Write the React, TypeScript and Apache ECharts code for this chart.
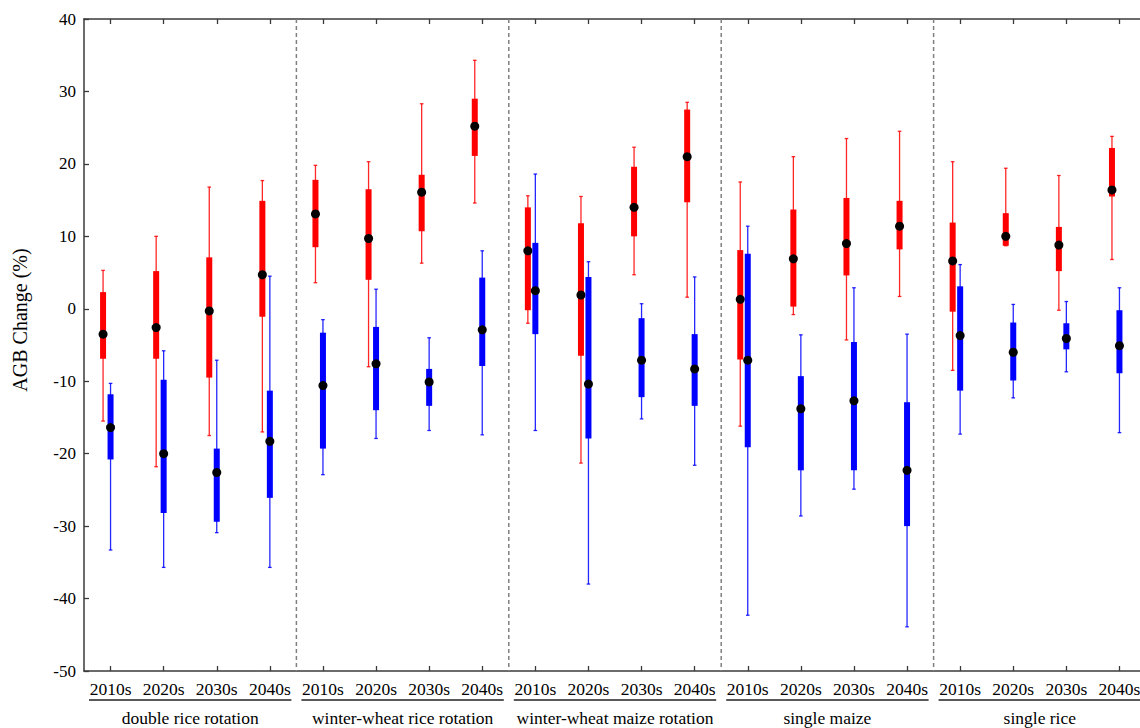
import React, { useEffect, useRef } from "react";
import * as echarts from "echarts";

const groups = [
  "double rice rotation",
  "winter-wheat rice rotation",
  "winter-wheat maize rotation",
  "single maize",
  "single rice",
];
const decades = ["2010s", "2020s", "2030s", "2040s"];
const categories = groups.flatMap(() => decades);

// red series (low whisker, Q1, median, Q3, high whisker)
const redLow = [-15.5, -21.8, -17.5, -17.0, 3.6, -8.0, 6.3, 14.6, -2.0, -21.3, 4.7, 1.6, -16.2, -0.8, -4.3, 1.7, -8.5, 8.7, -0.2, 6.8];
const redQ1 = [-6.9, -6.9, -9.5, -1.1, 8.5, 4.0, 10.7, 21.1, -0.2, -6.5, 10.0, 14.7, -7.0, 0.3, 4.6, 8.2, -0.4, 8.7, 5.2, 15.5];
const redMedian = [-3.5, -2.6, -0.3, 4.7, 13.1, 9.7, 16.1, 25.2, 8.0, 1.9, 14.0, 21.0, 1.3, 6.9, 9.0, 11.4, 6.6, 10.0, 8.8, 16.4];
const redQ3 = [2.3, 5.2, 7.1, 14.9, 17.8, 16.5, 18.5, 29.0, 14.0, 11.8, 19.6, 27.5, 8.1, 13.7, 15.3, 14.9, 11.9, 13.2, 11.3, 22.2];
const redHigh = [5.3, 10.0, 16.8, 17.7, 19.8, 20.3, 28.3, 34.3, 15.6, 15.5, 22.3, 28.5, 17.5, 21.0, 23.5, 24.5, 20.3, 19.4, 18.4, 23.8];

// blue series
const blueLow = [-33.3, -35.7, -30.9, -35.7, -22.9, -17.9, -16.8, -17.4, -16.8, -38.0, -15.2, -21.6, -42.3, -28.6, -24.9, -43.9, -17.3, -12.3, -8.7, -17.1];
const blueQ1 = [-20.8, -28.2, -29.4, -26.1, -19.3, -14.0, -13.4, -7.9, -3.5, -17.9, -12.2, -13.4, -19.1, -22.3, -22.3, -30.0, -11.3, -9.9, -5.6, -8.9];
const blueMedian = [-16.4, -20.0, -22.6, -18.3, -10.6, -7.6, -10.1, -2.9, 2.5, -10.4, -7.1, -8.3, -7.1, -13.8, -12.7, -22.3, -3.7, -6.0, -4.1, -5.1];
const blueQ3 = [-11.8, -9.8, -19.3, -11.3, -3.3, -2.5, -8.3, 4.3, 9.1, 4.4, -1.3, -3.5, 7.6, -9.3, -4.6, -12.9, 3.1, -1.9, -2.0, -0.2];
const blueHigh = [-10.3, -5.8, -7.1, 4.5, -1.5, 2.7, -4.0, 8.0, 18.6, 6.5, 0.7, 4.4, 11.4, -3.6, 2.9, -3.5, 6.1, 0.6, 1.0, 2.9];

const separators = [3.5, 7.5, 11.5, 15.5];

const FONT = "'Liberation Serif', 'Times New Roman', serif";

function buildData(low: number[], q1: number[], med: number[], q3: number[], high: number[]) {
  return categories.map((_, i) => [i, low[i], q1[i], med[i], q3[i], high[i]]);
}

function makeRender(color: string, offsetFrac: number) {
  return (params: any, api: any) => {
    const x = api.value(0);
    const band = api.size([1, 0])[0];
    const cx = api.coord([x, 0])[0] + band * offsetFrac;
    const yLow = api.coord([x, api.value(1)])[1];
    const yQ1 = api.coord([x, api.value(2)])[1];
    const yMed = api.coord([x, api.value(3)])[1];
    const yQ3 = api.coord([x, api.value(4)])[1];
    const yHigh = api.coord([x, api.value(5)])[1];
    const capHalf = 1.8;
    const boxHalf = 3;
    const ws = { stroke: color, lineWidth: 1.3, opacity: 0.85 };
    return {
      type: "group",
      children: [
        { type: "line", shape: { x1: cx, y1: yHigh, x2: cx, y2: yLow }, style: ws },
        { type: "line", shape: { x1: cx - capHalf, y1: yHigh, x2: cx + capHalf, y2: yHigh }, style: ws },
        { type: "line", shape: { x1: cx - capHalf, y1: yLow, x2: cx + capHalf, y2: yLow }, style: ws },
        { type: "rect", shape: { x: cx - boxHalf, y: yQ3, width: boxHalf * 2, height: yQ1 - yQ3 }, style: { fill: color } },
        { type: "circle", shape: { cx: cx, cy: yMed, r: 4.5 }, style: { fill: "#000" } },
      ],
    };
  };
}

export default function App() {
  const ref = useRef<HTMLDivElement>(null);
  useEffect(() => {
    if (!ref.current) return;
    const chart = echarts.init(ref.current, null, { renderer: "svg" });
    const axisColor = "#3a3a3a";
    const gridLeft = 84;
    const gridTop = 19;
    const gridHeight = 652;
    const tick = { show: true, inside: true, length: 5, lineStyle: { color: axisColor, width: 1.3 } };
    const line = { show: true, onZero: false, lineStyle: { color: axisColor, width: 1.5 } };
    chart.setOption({
      animation: false,
      backgroundColor: "#fff",
      grid: {
        left: gridLeft,
        top: gridTop,
        width: 1062,
        height: gridHeight,
        containLabel: false,
        outerBoundsMode: "none",
      },
      xAxis: [
        {
          type: "category",
          data: categories,
          position: "bottom",
          boundaryGap: true,
          axisLine: line,
          axisTick: { ...tick, alignWithLabel: true },
          axisLabel: { interval: 0, fontFamily: FONT, fontSize: 17.5, color: "#000", margin: 9 },
          splitLine: { show: false },
        },
        {
          type: "category",
          data: categories,
          position: "top",
          boundaryGap: true,
          axisLine: line,
          axisTick: { ...tick, alignWithLabel: true },
          axisLabel: { show: false },
          splitLine: { show: false },
        },
        { type: "value", min: -0.5, max: 19.5, show: false, axisLine: { onZero: false } },
      ],
      yAxis: [
        {
          type: "value",
          min: -50,
          max: 40,
          interval: 10,
          position: "left",
          axisLine: line,
          axisTick: tick,
          axisLabel: { fontFamily: FONT, fontSize: 17, color: "#000", margin: 8 },
          splitLine: { show: false },
        },
        {
          type: "value",
          min: -50,
          max: 40,
          interval: 10,
          position: "right",
          axisLine: line,
          axisTick: tick,
          axisLabel: { show: false },
          splitLine: { show: false },
        },
      ],
      series: [
        {
          type: "custom",
          name: "separators",
          xAxisIndex: 2,
          yAxisIndex: 0,
          data: separators.map((s) => [s]),
          encode: { x: 0 },
          renderItem: (params: any, api: any) => {
            const x = api.coord([api.value(0), 0])[0];
            const cs = params.coordSys;
            return {
              type: "line",
              shape: { x1: x, y1: cs.y, x2: x, y2: cs.y + cs.height },
              style: { stroke: "#808080", lineWidth: 1.5, lineDash: [4, 3] },
            };
          },
          z: 1,
        },
        {
          type: "custom",
          name: "red",
          xAxisIndex: 0,
          yAxisIndex: 0,
          data: buildData(redLow, redQ1, redMedian, redQ3, redHigh),
          encode: { x: 0, y: [1, 2, 3, 4, 5] },
          renderItem: makeRender("#ff0000", -0.141),
          z: 3,
        },
        {
          type: "custom",
          name: "blue",
          xAxisIndex: 0,
          yAxisIndex: 0,
          data: buildData(blueLow, blueQ1, blueMedian, blueQ3, blueHigh),
          encode: { x: 0, y: [1, 2, 3, 4, 5] },
          renderItem: makeRender("#0000ff", 0),
          z: 4,
        },
      ],
    });

    const bottom = gridTop + gridHeight;
    const graphics: any[] = [];
    groups.forEach((g, gi) => {
      const left = chart.convertToPixel({ xAxisIndex: 2 }, gi * 4 - 0.5) as number;
      const right = chart.convertToPixel({ xAxisIndex: 2 }, gi * 4 + 3.5) as number;
      graphics.push({
        type: "line",
        shape: { x1: left + 5, y1: bottom + 29, x2: right - 5, y2: bottom + 29 },
        style: { stroke: "#222", lineWidth: 1.5 },
      });
      graphics.push({
        type: "text",
        x: (left + right) / 2,
        y: bottom + 47,
        style: { text: g, fontFamily: FONT, fontSize: 17.5, fill: "#000", textAlign: "center", textVerticalAlign: "middle" },
      });
    });
    graphics.push({
      type: "text",
      x: 20,
      y: 320,
      rotation: Math.PI / 2,
      style: { text: "AGB Change (%)", fontFamily: FONT, fontSize: 20, fill: "#000", textAlign: "center", textVerticalAlign: "middle" },
    });
    chart.setOption({ graphic: graphics });

    return () => chart.dispose();
  }, []);
  return <div ref={ref} style={{ position: "absolute", left: 0, top: 0, width: 1140, height: 728 }} />;
}
